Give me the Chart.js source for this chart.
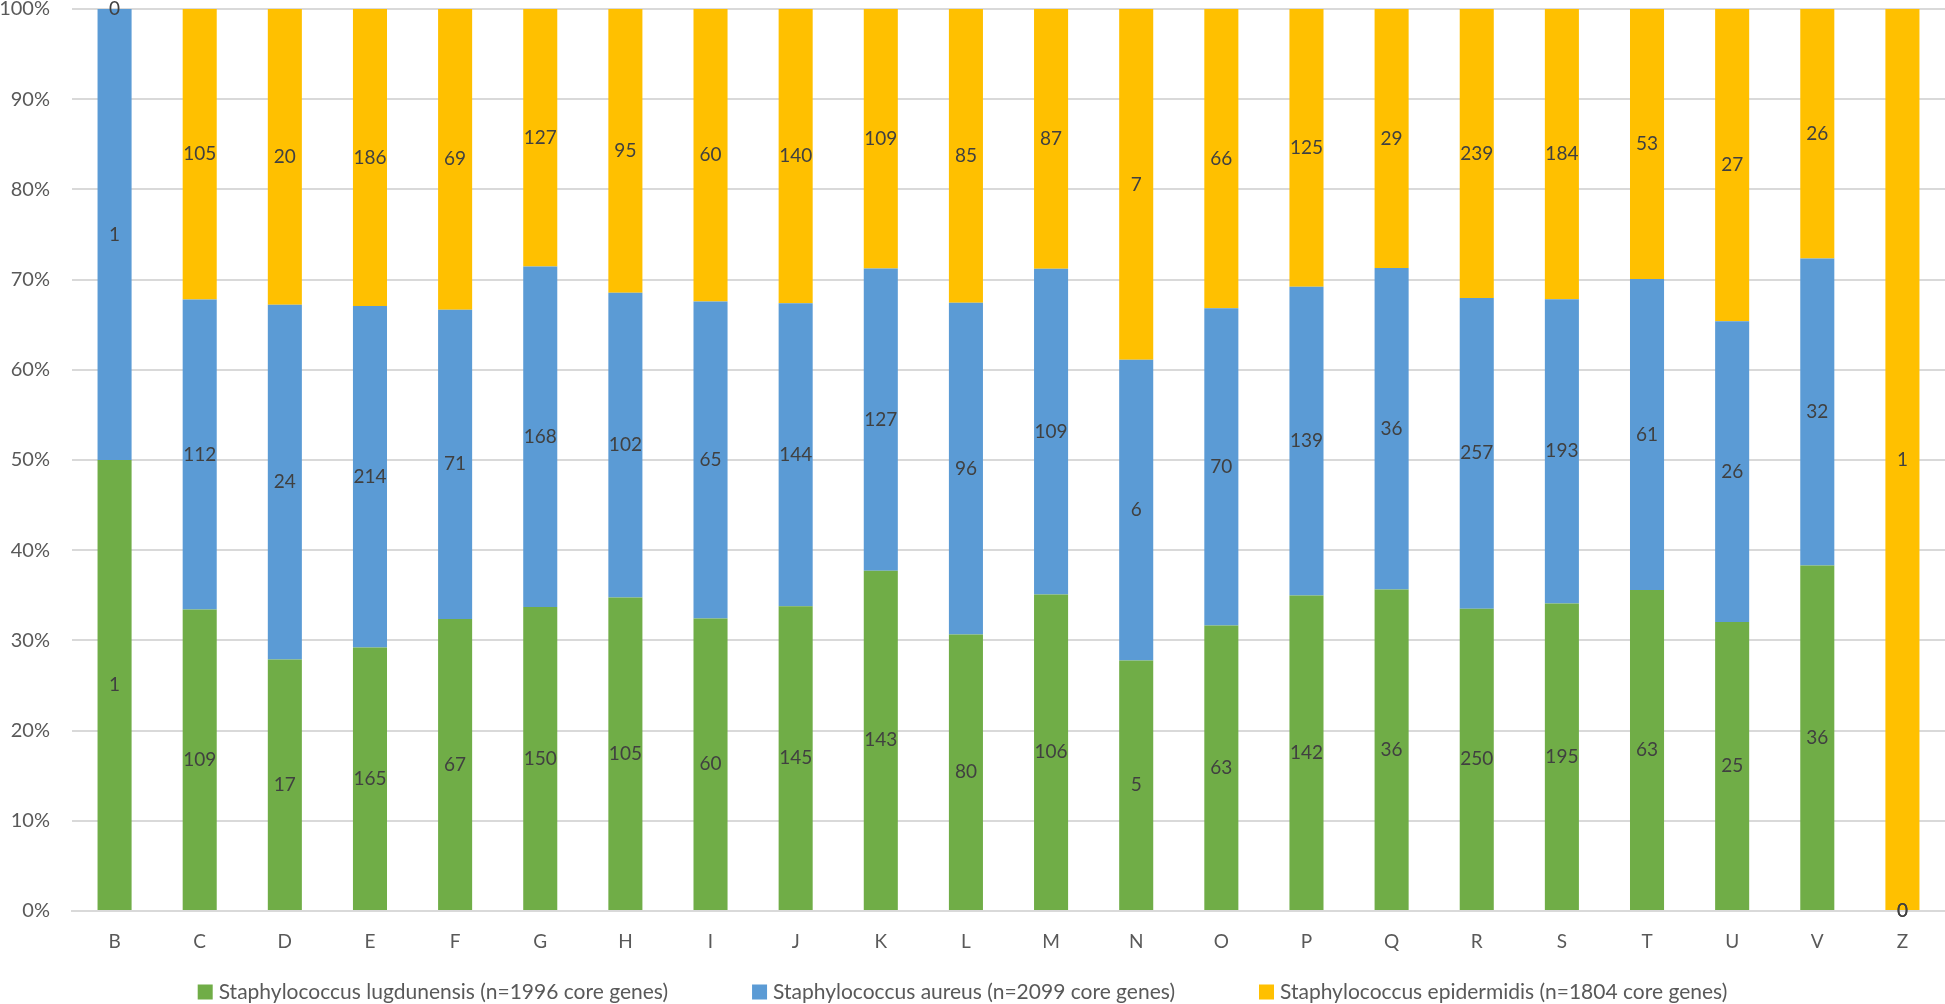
<!DOCTYPE html>
<html>
<head>
<meta charset="utf-8">
<script src="https://cdn.jsdelivr.net/npm/chart.js@4.4.1/dist/chart.umd.min.js"></script>
<style>
  html, body { margin: 0; padding: 0; background: #fff; }
  #wrap { width: 1945px; height: 1004px; }
</style>
</head>
<body>
<div id="wrap"><canvas id="chart"></canvas></div>
<script>
const categories = ['B','C','D','E','F','G','H','I','J','K','L','M','N','O','P','Q','R','S','T','U','V','Z'];
// gene counts per category (shown as labels), bars are the share of each column
const lugdunensis = [1, 109, 17, 165, 67, 150, 105, 60, 145, 143, 80, 106, 5, 63, 142, 36, 250, 195, 63, 25, 36, 0];
const aureus      = [1, 112, 24, 214, 71, 168, 102, 65, 144, 127, 96, 109, 6, 70, 139, 36, 257, 193, 61, 26, 32, 0];
const epidermidis = [0, 105, 20, 186, 69, 127, 95, 60, 140, 109, 85, 87, 7, 66, 125, 29, 239, 184, 53, 27, 26, 1];
const seriesNames = [
    'Staphylococcus lugdunensis (n=1996 core genes)',
    'Staphylococcus aureus (n=2099 core genes)',
    'Staphylococcus epidermidis (n=1804 core genes)'
];
const colors = ['#70AD47', '#5B9BD5', '#FFC000'];

const FONT = 'Lato, "Open Sans", sans-serif';

const totals = categories.map((c, i) => lugdunensis[i] + aureus[i] + epidermidis[i]);
function toPercent(arr) {
    return arr.map((v, i) => totals[i] ? v / totals[i] * 100 : 0);
}

const counts = [lugdunensis, aureus, epidermidis];

const datasets = counts.map((arr, k) => ({
    label: seriesNames[k],
    data: toPercent(arr),
    counts: arr,
    backgroundColor: colors[k],
    borderWidth: 0,
    categoryPercentage: 1.0,
    barPercentage: 0.4
}));

// draws the count in the middle of each segment
const segmentLabels = {
    id: 'segmentLabels',
    afterDatasetsDraw(chart) {
        const ctx = chart.ctx;
        ctx.save();
        ctx.font = '19px ' + FONT;
        ctx.fillStyle = '#404040';
        ctx.textAlign = 'center';
        ctx.textBaseline = 'middle';
        chart.data.datasets.forEach((ds, di) => {
            const meta = chart.getDatasetMeta(di);
            meta.data.forEach((bar, i) => {
                const y = (bar.y + bar.base) / 2;
                ctx.fillText(String(ds.counts[i]), bar.x, y);
            });
        });
        ctx.restore();
    }
};

// legend along the bottom
const bottomLegend = {
    id: 'bottomLegend',
    afterDraw(chart) {
        const ctx = chart.ctx;
        ctx.save();
        ctx.font = '21px ' + FONT;
        ctx.textBaseline = 'middle';
        const box = 15, gapText = 6, gapItem = 84;
        const items = chart.data.datasets.map(ds => ({
            text: ds.label,
            color: ds.backgroundColor,
            w: box + gapText + ctx.measureText(ds.label).width
        }));
        const total = items.reduce((s, it) => s + it.w, 0) + gapItem * (items.length - 1);
        let x = (chart.width - total) / 2 - 10;
        const y = 992;
        items.forEach(it => {
            ctx.fillStyle = it.color;
            ctx.fillRect(x, y - box / 2, box, box);
            ctx.fillStyle = '#595959';
            ctx.textAlign = 'left';
            ctx.fillText(it.text, x + box + gapText, y);
            x += it.w + gapItem;
        });
        ctx.restore();
    }
};

new Chart(document.getElementById('chart'), {
    type: 'bar',
    data: {
        labels: categories,
        datasets: datasets
    },
    options: {
        responsive: true,
        maintainAspectRatio: false,
        animation: false,
        layout: { padding: { top: 9, right: 0, left: 0, bottom: 39 } },
        plugins: {
            legend: { display: false },
            tooltip: { enabled: false }
        },
        scales: {
            x: {
                stacked: true,
                grid: { display: false, drawTicks: false },
                border: { display: true, color: '#d9d9d9', width: 2 },
                ticks: { color: '#595959', font: { family: FONT, size: 19 }, padding: 19 },
                afterFit(scale) { scale.height = 54; }
            },
            y: {
                stacked: true,
                min: 0,
                max: 100,
                grid: { color: '#d9d9d9', lineWidth: 2, drawTicks: false },
                border: { display: false },
                ticks: {
                    stepSize: 10,
                    color: '#595959',
                    font: { family: FONT, size: 20 },
                    padding: 22,
                    callback: v => v + '%'
                },
                afterFit(scale) {
                    scale.width = 72;
                    scale.paddingTop = 0;
                    scale.paddingBottom = 0;
                }
            }
        }
    },
    plugins: [segmentLabels, bottomLegend]
});
</script>
</body>
</html>
